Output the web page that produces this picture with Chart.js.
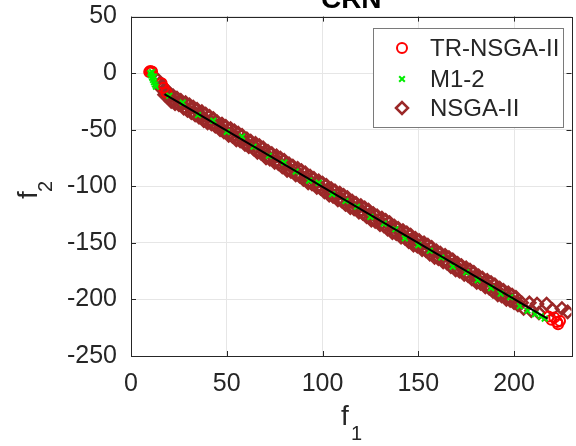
<!DOCTYPE html>
<html>
<head>
<meta charset="utf-8">
<script src="https://cdn.jsdelivr.net/npm/chart.js@4/dist/chart.umd.min.js"></script>
<style>
  html, body { margin: 0; padding: 0; background: #fff; overflow: hidden; }
  #wrap { position: absolute; left: 0; top: -17px; width: 580px; height: 463px; }
</style>
</head>
<body>
<div id="wrap"><canvas id="myChart" width="580" height="463"></canvas></div>
<script>
const OFF = 17; // canvas is shifted up so the title is cut off like in the source

const TITLE = 'CRN';
const X_TICKS = [0, 50, 100, 150, 200];
const Y_TICKS = [-250, -200, -150, -100, -50, 0, 50];

const trNsga = [
  [10, 2], [10.5, 0.5], [11, 1.5], [9.5, 1], [16, -9], [17, -13], [18.5, -17],
  [218, -215], [219.5, -218], [221, -216], [222.5, -220], [224, -219], [223, -222],
];

const m12 = [
  [10, 0], [10.5, -2], [11, -4], [11.5, -6], [12, -8], [12.5, -10], [13, -12], [11, 1], [12, -3],
  [20, -20], [27, -26], [35, -37], [43, -42], [50, -52], [58, -56], [64, -65], [72, -73],
  [80, -79], [86, -87], [93, -95], [98, -97], [105, -107], [112, -113], [118, -118],
  [125, -127], [132, -133], [138, -138], [143, -146], [150, -152], [156, -157], [162, -163],
  [168, -171], [175, -176], [181, -183], [188, -190], [193, -195], [198, -198], [203, -206],
  [207, -210], [211, -213], [214, -215], [216, -217],
];

const nsga = [
  [14, -6], [15, -9], [15.5, -13], [16, -11], [17, -15], [17.5, -19], [18, -14], [19, -21],
  [20, -18], [21, -25], [22, -20], [23, -27], [24, -22], [25, -28], [26, -24], [27.5, -31],
  [28.5, -26], [29.5, -33], [30.5, -28], [31.5, -35], [32.5, -30], [33.5, -37], [34.5, -32],
  [35.5, -39], [37, -34], [38, -42], [39, -36], [40, -44], [41, -38], [42, -45], [43, -40],
  [44, -47], [45, -43], [46.5, -50], [47.5, -45], [48.5, -52], [49.5, -47], [51, -55],
  [52, -49], [53, -56], [54, -51], [55, -59], [56, -53], [57, -60], [58, -55], [59.5, -63],
  [60.5, -58], [61.5, -65], [62.5, -60], [64, -67], [65, -62], [66, -70], [67, -64],
  [68, -71], [69, -66], [70.5, -75], [71.5, -69], [72.5, -76], [73.5, -71], [75, -79],
  [76, -73], [77, -80], [78, -75], [79, -83], [80, -77], [81.5, -86], [82.5, -80],
  [83.5, -87], [84.5, -82], [86, -90], [87, -84], [88, -91], [89, -86], [90, -94], [91, -88],
  [92.5, -97], [93.5, -91], [94.5, -98], [95.5, -93], [97, -101], [98, -95], [99, -102],
  [100, -97], [101, -105], [102, -99], [103.5, -108], [104.5, -102], [105.5, -109],
  [106.5, -104], [108, -112], [109, -106], [110, -113], [111, -108], [112, -116], [113, -110],
  [114.5, -119], [115.5, -113], [116.5, -120], [117.5, -115], [119, -123], [120, -117],
  [121, -124], [122, -119], [123, -127], [124, -121], [125.5, -130], [126.5, -124],
  [127.5, -131], [128.5, -126], [130, -134], [131, -128], [132, -135], [133, -130],
  [134, -138], [135, -132], [136.5, -141], [137.5, -135], [138.5, -142], [139.5, -137],
  [141, -145], [142, -139], [143, -146], [144, -141], [145, -149], [146, -143],
  [147.5, -152], [148.5, -146], [149.5, -153], [150.5, -148], [152, -156], [153, -150],
  [154, -157], [155, -152], [156, -160], [157, -154], [158.5, -163], [159.5, -157],
  [160.5, -164], [161.5, -159], [163, -167], [164, -161], [165, -168], [166, -163],
  [167, -171], [168, -165], [169.5, -174], [170.5, -168], [171.5, -175], [172.5, -170],
  [174, -178], [175, -172], [176, -179], [177, -174], [178, -182], [179, -176],
  [180.5, -185], [181.5, -179], [182.5, -186], [183.5, -181], [185, -189], [186, -183],
  [187, -190], [188, -185], [189, -193], [190, -187], [191.5, -196], [192.5, -190],
  [193.5, -197], [194.5, -192], [196, -200], [197, -194], [198, -201], [199, -196],
  [200, -203], [201, -198], [202, -205], [204, -203], [205, -208], [208, -203], [209, -210],
  [212, -204], [213, -212], [217, -204], [220, -209], [225, -208], [228, -211],
  // points lying close to the front
  [19.5, -20], [22.5, -24], [25.5, -26], [28, -30], [31, -31], [33, -35], [36, -37],
  [38.5, -40], [41.5, -42], [44.5, -46], [47, -48], [50, -52], [52.5, -53], [55.5, -57],
  [58.5, -59], [61, -63], [63.5, -64], [66.5, -68], [69.5, -70], [72, -74], [74.5, -75],
  [77.5, -79], [80.5, -81], [83, -85], [85.5, -86], [88.5, -90], [91.5, -92], [94, -96],
  [96.5, -97], [99.5, -101], [102.5, -103], [105, -107], [107.5, -108], [110.5, -112],
  [113.5, -114], [116, -118], [118.5, -119], [121.5, -123], [124.5, -125], [127, -129],
  [129.5, -130], [132.5, -134], [135.5, -136], [138, -140], [140.5, -141], [143.5, -145],
  [146.5, -147], [149, -151], [151.5, -152], [154.5, -156], [157.5, -158], [160, -162],
  [162.5, -163], [165.5, -167], [168.5, -169], [171, -173], [173.5, -174], [176.5, -178],
  [179.5, -180], [182, -184], [184.5, -185], [187.5, -189], [190.5, -191], [193, -195],
  [195.5, -196], [198.5, -200], [201.5, -202],
];

const front = [[17.5, -18.6], [100, -100.5], [217.5, -217]];

const toXY = (arr) => arr.map(([x, y]) => ({ x, y }));

Chart.defaults.font.family = '"Liberation Sans", Arial, Helvetica, sans-serif';
Chart.defaults.color = '#262626';

const boxPlugin = {
  id: 'boxPlugin',
  afterDraw(chart) {
    const { ctx, chartArea: a, scales } = chart;
    ctx.save();
    // axes box
    ctx.strokeStyle = '#262626';
    ctx.lineWidth = 1;
    ctx.strokeRect(Math.round(a.left) + 0.5, Math.round(a.top) + 0.5,
      Math.round(a.right - a.left), Math.round(a.bottom - a.top));
    // inward ticks
    ctx.beginPath();
    X_TICKS.forEach((v) => {
      const px = Math.round(scales.x.getPixelForValue(v)) + 0.5;
      ctx.moveTo(px, a.bottom); ctx.lineTo(px, a.bottom - 5);
      ctx.moveTo(px, a.top); ctx.lineTo(px, a.top + 5);
    });
    Y_TICKS.forEach((v) => {
      const py = Math.round(scales.y.getPixelForValue(v)) + 0.5;
      ctx.moveTo(a.left, py); ctx.lineTo(a.left + 5, py);
      ctx.moveTo(a.right, py); ctx.lineTo(a.right - 5, py);
    });
    ctx.stroke();

    // axis labels with subscripts
    ctx.fillStyle = '#262626';
    ctx.textBaseline = 'alphabetic';
    ctx.textAlign = 'left';
    ctx.font = '28px "Liberation Sans", Arial, sans-serif';
    ctx.fillText('f', 341, 425 + OFF);
    ctx.font = '20px "Liberation Sans", Arial, sans-serif';
    ctx.fillText('1', 351, 440 + OFF);

    ctx.save();
    ctx.translate(37, 199 + OFF);
    ctx.rotate(-Math.PI / 2);
    ctx.font = '28px "Liberation Sans", Arial, sans-serif';
    ctx.fillText('f', 0, 0);
    ctx.font = '20px "Liberation Sans", Arial, sans-serif';
    ctx.fillText('2', 7, 15);
    ctx.restore();

    // legend box
    const lx = 373, ly = 28 + OFF, lw = 190, lh = 99;
    ctx.fillStyle = '#ffffff';
    ctx.fillRect(lx, ly, lw, lh);
    ctx.strokeStyle = '#7a7a7a';
    ctx.lineWidth = 1;
    ctx.strokeRect(lx + 0.5, ly + 0.5, lw, lh);
    const rows = [48, 79, 108];
    chart.data.datasets.filter((d) => d.label).forEach((d, i) => {
      const y = rows[i] + OFF;
      ctx.strokeStyle = d.borderColor;
      ctx.fillStyle = 'rgba(0,0,0,0)';
      ctx.lineWidth = d.borderWidth;
      Chart.helpers.drawPoint(ctx, {
        pointStyle: d.pointStyle, radius: d.pointRadius, borderWidth: d.borderWidth, rotation: 0,
      }, 402, y);
      ctx.fillStyle = '#262626';
      ctx.font = '24px "Liberation Sans", Arial, sans-serif';
      ctx.textBaseline = 'middle';
      ctx.fillText(d.label, 430, y + 1);
    });
    ctx.restore();
  },
};

const ctx = document.getElementById('myChart').getContext('2d');
new Chart(ctx, {
  type: 'scatter',
  data: {
    datasets: [
      {
        label: 'TR-NSGA-II', data: toXY(trNsga), order: 2,
        pointStyle: 'circle', pointRadius: 5, borderWidth: 2,
        borderColor: '#ff0000', backgroundColor: 'rgba(0,0,0,0)',
      },
      {
        label: 'M1-2', data: toXY(m12), order: 1,
        pointStyle: 'crossRot', pointRadius: 4, borderWidth: 2,
        borderColor: '#00ee00', backgroundColor: '#00ee00',
      },
      {
        label: 'NSGA-II', data: toXY(nsga), order: 3,
        pointStyle: 'rectRot', pointRadius: 6, borderWidth: 2.5,
        borderColor: 'rgb(155,40,40)', backgroundColor: 'rgba(0,0,0,0)',
      },
      {
        label: '', data: toXY(front), order: 0,
        showLine: true, pointRadius: 0, borderWidth: 2, borderColor: '#000000',
      },
    ],
  },
  options: {
    responsive: false,
    animation: false,
    layout: { padding: { left: 0, right: 3, top: 0, bottom: 0 } },
    plugins: {
      legend: { display: false },
      tooltip: { enabled: false },
      title: {
        display: true, text: TITLE, fullSize: false,
        font: { size: 28, weight: 'bold' }, color: '#000000',
        padding: { top: 0, bottom: 0 },
      },
    },
    scales: {
      x: {
        type: 'linear', min: 0, max: 230,
        afterBuildTicks: (s) => { s.ticks = X_TICKS.map((value) => ({ value })); },
        afterFit: (s) => { s.height = 90; },
        grid: { color: '#e6e6e6', drawTicks: false },
        border: { display: false },
        ticks: { font: { size: 25 }, padding: 13, maxRotation: 0 },
      },
      y: {
        type: 'linear', min: -250, max: 50,
        afterBuildTicks: (s) => { s.ticks = Y_TICKS.map((value) => ({ value })); },
        afterFit: (s) => { s.width = 131; },
        grid: { color: '#e6e6e6', drawTicks: false },
        border: { display: false },
        ticks: { font: { size: 25 }, padding: 14 },
      },
    },
  },
  plugins: [boxPlugin],
});
</script>
</body>
</html>
